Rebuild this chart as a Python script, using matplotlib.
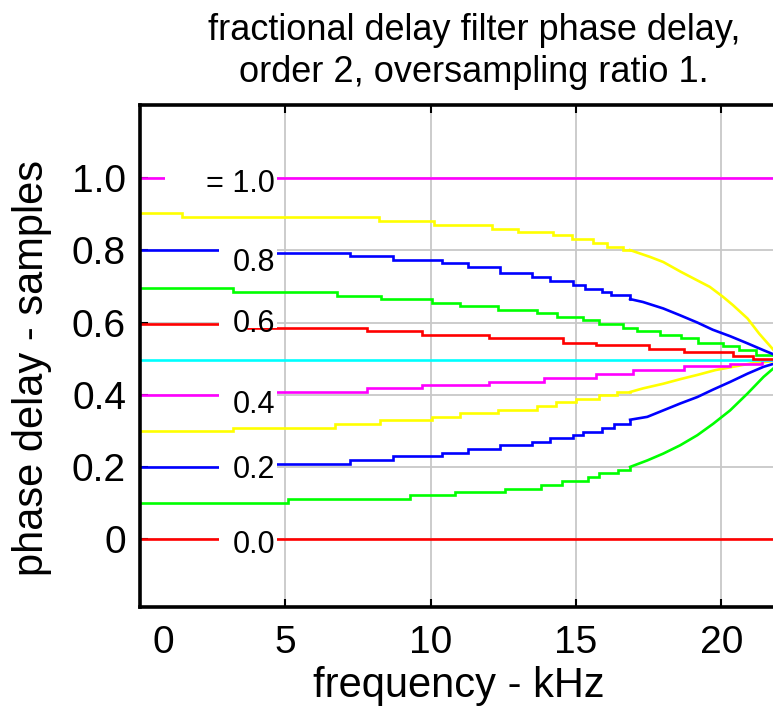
import numpy as np
import matplotlib
matplotlib.use('Agg')
import matplotlib.pyplot as plt
from matplotlib.patches import Rectangle
from matplotlib.transforms import ScaledTranslation

plt.rcParams['font.family'] = ['Liberation Sans', 'DejaVu Sans']

# ---------------- data ----------------
delays = [0.0, 0.1, 0.2, 0.3, 0.4, 0.5, 0.6, 0.7, 0.8, 0.9, 1.0]
colors = ['#ff0000', '#00ff00', '#0000ff', '#ffff00', '#ff00ff', '#00ffff',
          '#ff0000', '#00ff00', '#0000ff', '#ffff00', '#ff00ff']
f_end = 21.78

# staircase part: value holds from each freq until the next one
f00_steps = [0.0]
v00_steps = [0.0]
f01_steps = [0.0, 5.1, 9.3, 10.84, 12.56, 13.8, 14.5, 15.4, 15.8, 16.45, 16.86]
v01_steps = [0.100, 0.109, 0.120, 0.129, 0.139, 0.148, 0.159, 0.171, 0.181, 0.190, 0.199]
f02_steps = [0.0, 3.7, 7.23, 8.7, 10.4, 11.3, 12.4, 13.5, 14.1, 14.9, 15.25, 15.9, 16.3, 16.86]
v02_steps = [0.200, 0.208, 0.217, 0.229, 0.239, 0.248, 0.259, 0.268, 0.278, 0.287, 0.296, 0.308, 0.319, 0.330]
f03_steps = [0.0, 3.2, 6.7, 8.26, 10.05, 11.0, 12.3, 13.65, 14.3, 15.0, 15.8, 16.4, 16.86]
v03_steps = [0.298, 0.308, 0.317, 0.329, 0.338, 0.348, 0.356, 0.368, 0.378, 0.387, 0.398, 0.407, 0.407]
f04_steps = [0.0, 3.7, 7.8, 9.7, 12.0, 13.9, 15.7, 16.95, 18.7, 20.3, 21.4]
v04_steps = [0.398, 0.406, 0.417, 0.426, 0.435, 0.447, 0.456, 0.468, 0.479, 0.486, 0.495]
f05_steps = [0.0]
v05_steps = [0.497]
f06_steps = [0.0, 3.7, 7.8, 9.7, 12.0, 14.55, 15.7, 17.5, 18.7, 20.4, 21.1]
v06_steps = [0.596, 0.585, 0.576, 0.565, 0.556, 0.544, 0.537, 0.526, 0.517, 0.507, 0.500]
f07_steps = [0.0, 3.2, 6.78, 8.3, 10.05, 11.0, 12.3, 13.65, 14.35, 15.25, 15.8, 16.6, 17.1,
             17.9, 18.6, 19.2, 20.06, 20.6, 21.2]
v07_steps = [0.696, 0.684, 0.675, 0.665, 0.654, 0.645, 0.636, 0.627, 0.616, 0.606, 0.595, 0.586, 0.577,
             0.565, 0.556, 0.543, 0.534, 0.523, 0.510]
f08_steps = [0.0, 3.7, 7.23, 8.7, 10.4, 11.3, 12.4, 13.5, 14.1, 14.9, 15.3, 15.9, 16.2, 16.86]
v08_steps = [0.802, 0.793, 0.784, 0.773, 0.764, 0.753, 0.738, 0.725, 0.716, 0.704, 0.694, 0.685, 0.676, 0.665]
f09_steps = [0.0, 1.45, 8.22, 10.12, 12.11, 13.0, 14.2, 14.87, 15.57, 16.07, 16.62, 16.86]
v09_steps = [0.905, 0.892, 0.883, 0.872, 0.860, 0.852, 0.842, 0.832, 0.821, 0.811, 0.802, 0.801]
f10_steps = [0.0]
v10_steps = [1.0]

# smoothly bending tail near the Nyquist frequency
f01_tail = [16.86, 17.45, 18.0, 18.58, 19.17, 19.72, 20.3, 20.9, 21.45, 21.78]
v01_tail = [0.199, 0.217, 0.236, 0.259, 0.287, 0.319, 0.356, 0.403, 0.449, 0.472]
f02_tail = [16.86, 17.45, 18.0, 18.58, 19.17, 19.72, 20.3, 20.9, 21.45, 21.78]
v02_tail = [0.330, 0.338, 0.356, 0.375, 0.393, 0.414, 0.435, 0.458, 0.477, 0.485]
f03_tail = [16.86, 17.3, 18.0, 18.6, 19.2, 19.8, 20.4, 21.0, 21.78]
v03_tail = [0.407, 0.417, 0.430, 0.443, 0.455, 0.468, 0.477, 0.486, 0.493]
f08_tail = [16.86, 17.3, 18.0, 18.58, 19.17, 19.7, 20.3, 20.9, 21.45, 21.78]
v08_tail = [0.665, 0.657, 0.639, 0.620, 0.600, 0.580, 0.562, 0.542, 0.523, 0.512]
f09_tail = [16.86, 17.55, 18.0, 18.6, 19.17, 19.6, 20.06, 20.4, 20.9, 21.3, 21.78]
v09_tail = [0.801, 0.782, 0.768, 0.741, 0.717, 0.699, 0.671, 0.648, 0.611, 0.569, 0.525]

steps_f = [f00_steps, f01_steps, f02_steps, f03_steps, f04_steps, f05_steps,
           f06_steps, f07_steps, f08_steps, f09_steps, f10_steps]
steps_v = [v00_steps, v01_steps, v02_steps, v03_steps, v04_steps, v05_steps,
           v06_steps, v07_steps, v08_steps, v09_steps, v10_steps]
tails_f = [None, f01_tail, f02_tail, f03_tail, None, None, None, None, f08_tail, f09_tail, None]
tails_v = [None, v01_tail, v02_tail, v03_tail, None, None, None, None, v08_tail, v09_tail, None]

label_texts = ['0.0', '0.2', '0.4', '0.6', '0.8', '= 1.0']
label_delays = [0.0, 0.2, 0.4, 0.6, 0.8, 1.0]
label_base = [-0.039, 0.167, 0.348, 0.575, 0.742, 0.962]
gap_start = [2.72, 2.72, 2.72, 2.72, 2.72, 0.86]
gap_end = 4.71

x_ticks = [0, 5, 10, 15, 20]
y_ticks = [0, 0.2, 0.4, 0.6, 0.8, 1.0]
y_ticklabels = ['0', '0.2', '0.4', '0.6', '0.8', '1.0']

# ---------------- figure ----------------
W, H = 773, 706
fig = plt.figure(figsize=(W / 100, H / 100), dpi=100)
ax = fig.add_axes([140 / W, 99 / H, 641 / W, 502 / H])
ax.set_xlim(0, 22.05)
ax.set_ylim(-0.19, 1.204)

for i in range(len(delays)):
    sf = list(steps_f[i])
    sv = list(steps_v[i])
    if tails_f[i] is None:
        sf = sf + [f_end]
        sv = sv + [sv[-1]]
    ax.plot(sf, sv, drawstyle='steps-post', color=colors[i], lw=1.9,
            zorder=2, solid_joinstyle='miter')
    if tails_f[i] is not None:
        ax.plot(tails_f[i], tails_v[i], color=colors[i], lw=1.9, zorder=2)

for txt, d, yb, g0 in zip(label_texts, label_delays, label_base, gap_start):
    ax.add_patch(Rectangle((g0, d - 0.015), gap_end - g0, 0.03,
                           facecolor='white', edgecolor='none', zorder=3))
    ax.text(4.65, yb, txt, ha='right', va='baseline', fontsize=22,
            color='black', zorder=4)

ax.set_xticks(x_ticks)
ax.set_xticklabels([str(t) for t in x_ticks])
ax.set_yticks(y_ticks)
ax.set_yticklabels(y_ticklabels)
ax.grid(True, color='#c8c8c8', lw=1.3)
ax.set_axisbelow(True)
ax.tick_params(direction='in', length=6, width=1.5, top=True, right=True,
               labelsize=28, colors='black')
ax.tick_params(axis='x', pad=13)
ax.tick_params(axis='y', pad=10)
for s in ax.spines.values():
    s.set_linewidth(2.6)
    s.set_color('black')

# first x tick label is drawn shifted to the right
lbl0 = ax.get_xticklabels()[0]
lbl0.set_transform(lbl0.get_transform() + ScaledTranslation(0.23, 0, fig.dpi_scale_trans))

ax.set_xlabel('frequency - kHz', fontsize=30, va='top')
ax.xaxis.set_label_coords(0.498, -0.1185)
ax.set_ylabel('phase delay - samples', fontsize=30)
ax.yaxis.set_label_coords(-0.137, 0.476)

fig.text(474 / W, 1 - 13 / H,
         'fractional delay filter phase delay,\norder 2, oversampling ratio 1.',
         ha='center', va='top', fontsize=26, linespacing=1.25, multialignment='center')

fig.savefig('out.png', dpi=100)
